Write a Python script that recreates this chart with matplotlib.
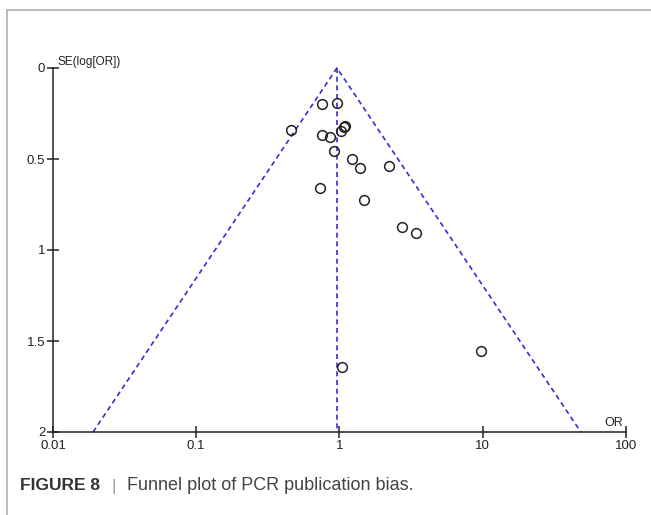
#!/usr/bin/env python3
"""Funnel plot of PCR publication bias (Figure 8)."""

import numpy as np
import matplotlib.pyplot as plt
from matplotlib.lines import Line2D

# study estimates
odds_ratio = [0.75, 0.96, 0.46, 0.75, 0.865, 1.02, 1.08, 1.10, 0.91, 1.23,
              1.40, 2.23, 0.73, 1.48, 2.72, 3.44, 9.66, 1.04]
se_log_or = [0.20, 0.19, 0.34, 0.366, 0.381, 0.346, 0.322, 0.317, 0.458, 0.498,
             0.549, 0.538, 0.658, 0.727, 0.875, 0.908, 1.553, 1.641]
pooled_or = 0.96
se_max = 2.0

x_ticks = [0.01, 0.1, 1, 10, 100]
x_tick_labels = ["0.01", "0.1", "1", "10", "100"]
y_ticks = [0, 0.5, 1, 1.5, 2]
y_tick_labels = ["0", "0.5", "1", "1.5", "2"]

plt.rcParams["font.family"] = ["Liberation Sans", "DejaVu Sans"]

W, H = 651, 515
fig = plt.figure(figsize=(W / 100, H / 100), dpi=100)

# frame lines of the figure panel
border = "#b0b0b0"
fig.add_artist(Line2D([7 / W, 1], [1 - 10 / H, 1 - 10 / H], color=border, lw=1.2))
fig.add_artist(Line2D([7 / W, 7 / W], [0, 1 - 10 / H], color=border, lw=1.2))

left, right, top, bottom = 53, 626, 68, 432
ax = fig.add_axes([left / W, 1 - bottom / H, (right - left) / W, (bottom - top) / H])
ax.set_xscale("log")
ax.set_xlim(0.01, 100)
ax.set_ylim(se_max, 0)

# pseudo 95% confidence limits
blue = "#3030d8"
dash = (0, (3.0, 2.2))
lo = pooled_or * np.exp(-1.96 * se_max)
hi = pooled_or * np.exp(1.96 * se_max)
ax.plot([lo, pooled_or, hi], [se_max, 0, se_max], color=blue, lw=1.2, linestyle=dash, clip_on=False)
ax.plot([pooled_or, pooled_or], [0, se_max], color=blue, lw=1.2, linestyle=dash, clip_on=False)

ax.plot(odds_ratio, se_log_or, linestyle="none", marker="o", markersize=7,
        markerfacecolor="none", markeredgecolor="#222222", markeredgewidth=1.1, clip_on=False)

for side in ("top", "right"):
    ax.spines[side].set_visible(False)
for side in ("left", "bottom"):
    ax.spines[side].set_linewidth(1.1)
    ax.spines[side].set_color("#222222")

ax.set_xticks(x_ticks)
ax.set_xticklabels(x_tick_labels)
ax.minorticks_off()
ax.set_yticks(y_ticks)
ax.set_yticklabels(y_tick_labels)
ax.tick_params(axis="both", direction="inout", length=9, width=1.1, color="#222222",
               labelsize=9.5, labelcolor="#222222")
ax.tick_params(axis="x", pad=1)
ax.tick_params(axis="y", pad=1)

ax.text(0.007, 1.0, "SE(log[OR])", transform=ax.transAxes, fontsize=8.5,
        color="#222222", ha="left", va="bottom")
ax.text(0.978, 0.007, "OR", transform=ax.transAxes, fontsize=9,
        color="#222222", ha="center", va="bottom")

# caption
cap_y = 1 - 486 / H
fig.text(20 / W, cap_y, "FIGURE 8", fontsize=12.5, fontweight="bold",
         color="#333333", ha="left", va="center")
fig.text(111 / W, cap_y, "|", fontsize=12.5, color="#999999", ha="left", va="center")
fig.text(127 / W, cap_y, "Funnel plot of PCR publication bias.", fontsize=13,
         color="#444444", ha="left", va="center")

fig.savefig("out.png", dpi=100)
